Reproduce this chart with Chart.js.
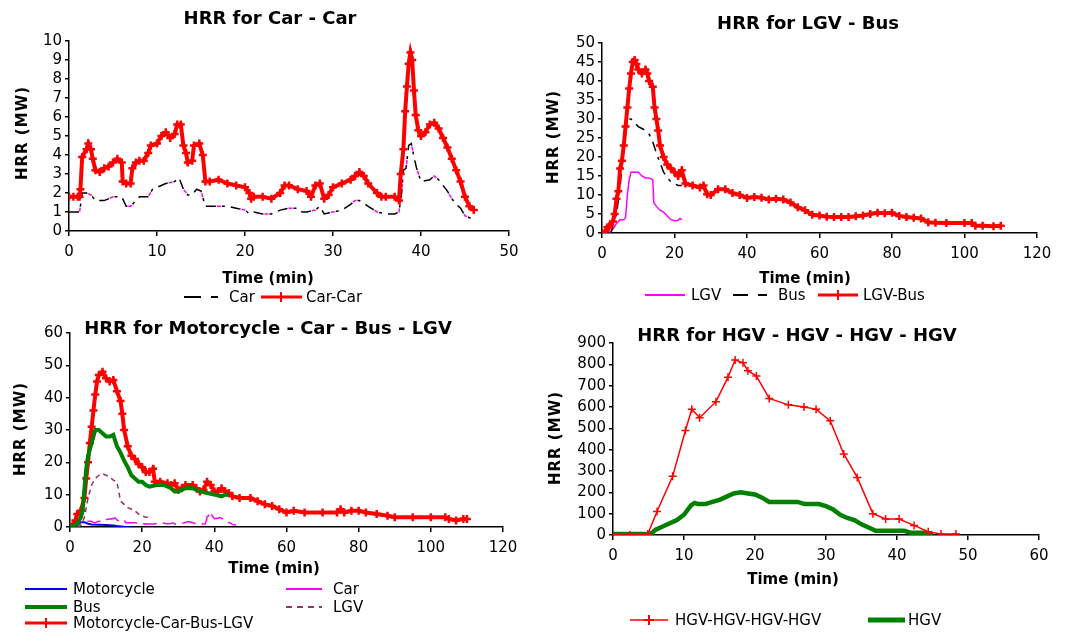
<!DOCTYPE html>
<html>
<head>
<meta charset="utf-8">
<script src="https://cdn.jsdelivr.net/npm/chart.js@4.4.0/dist/chart.umd.min.js"></script>
<style>
    body { margin: 0; background: #fff; }
    #page { position: relative; width: 1072px; height: 634px; overflow: hidden; }
    canvas { position: absolute; }
    .t { position: absolute; transform: translate(-50%, -50%); font: bold 18px 'DejaVu Sans'; white-space: nowrap; color: #000; }
    .xa { position: absolute; transform: translate(-50%, -50%); font: bold 15px 'DejaVu Sans'; white-space: nowrap; }
    .ya { position: absolute; transform: translate(-50%, -50%) rotate(-90deg); font: bold 15px 'DejaVu Sans'; letter-spacing: 1px; white-space: nowrap; }
    .lg { position: absolute; transform: translateY(-50%); font: 15px 'DejaVu Sans'; white-space: nowrap; }
    svg { position: absolute; left: 0; top: 0; }
</style>
</head>
<body>
<div id="page">
    <canvas id="c1" style="left:0px;top:26px" width="540" height="244"></canvas>
    <canvas id="c2" style="left:540px;top:28px" width="532" height="245"></canvas>
    <canvas id="c3" style="left:0px;top:318px" width="540" height="249"></canvas>
    <canvas id="c4" style="left:540px;top:328px" width="532" height="247"></canvas>

    <!-- titles -->
    <div class="t" style="left:270px;top:17px">HRR for Car - Car</div>
    <div class="t" style="left:808px;top:22px">HRR for LGV - Bus</div>
    <div class="t" style="left:268px;top:327px">HRR for Motorcycle - Car - Bus - LGV</div>
    <div class="t" style="left:797px;top:334px">HRR for HGV - HGV - HGV - HGV</div>

    <!-- axis titles -->
    <div class="xa" style="left:268px;top:278px">Time (min)</div>
    <div class="xa" style="left:805px;top:278px">Time (min)</div>
    <div class="xa" style="left:274px;top:568px">Time (min)</div>
    <div class="xa" style="left:793px;top:579px">Time (min)</div>
    <div class="ya" style="left:22px;top:133px">HRR (MW)</div>
    <div class="ya" style="left:553px;top:137px">HRR (MW)</div>
    <div class="ya" style="left:20px;top:429px">HRR (MW)</div>
    <div class="ya" style="left:555px;top:438px">HRR (MW)</div>

    <!-- legend samples -->
    <svg width="1072" height="634">
        <line x1="184" y1="297" x2="218" y2="297" stroke="#000" stroke-width="2" stroke-dasharray="17 10 7"/>
        <line x1="261" y1="297" x2="302" y2="297" stroke="#f00" stroke-width="3"/>
        <path d="M281 292 V302 M276 297 H286" stroke="#f00" stroke-width="2"/>

        <line x1="645" y1="295" x2="685" y2="295" stroke="#f0f" stroke-width="2"/>
        <line x1="733" y1="295" x2="767" y2="295" stroke="#000" stroke-width="2" stroke-dasharray="15 10 9"/>
        <line x1="818" y1="295" x2="858" y2="295" stroke="#f00" stroke-width="3"/>
        <path d="M838 290 V300 M833 295 H843" stroke="#f00" stroke-width="2"/>

        <line x1="25" y1="589" x2="67" y2="589" stroke="#0000ff" stroke-width="2"/>
        <line x1="25" y1="607" x2="67" y2="607" stroke="#008000" stroke-width="4"/>
        <line x1="25" y1="623" x2="67" y2="623" stroke="#f00" stroke-width="3"/>
        <path d="M46 618 V628 M41 623 H51" stroke="#f00" stroke-width="2"/>
        <line x1="286" y1="589" x2="322" y2="589" stroke="#f0f" stroke-width="2"/>
        <line x1="286" y1="607" x2="322" y2="607" stroke="#993366" stroke-width="2" stroke-dasharray="6 5"/>

        <line x1="630" y1="620" x2="668" y2="620" stroke="#f00" stroke-width="1.5"/>
        <path d="M649 615 V625 M644 620 H654" stroke="#f00" stroke-width="2"/>
        <line x1="868" y1="620" x2="905" y2="620" stroke="#008000" stroke-width="5"/>
    </svg>

    <!-- legend texts -->
    <div class="lg" style="left:229px;top:297px">Car</div>
    <div class="lg" style="left:306px;top:297px">Car-Car</div>
    <div class="lg" style="left:691px;top:295px">LGV</div>
    <div class="lg" style="left:778px;top:295px">Bus</div>
    <div class="lg" style="left:863px;top:295px">LGV-Bus</div>
    <div class="lg" style="left:73px;top:589px">Motorcycle</div>
    <div class="lg" style="left:73px;top:607px">Bus</div>
    <div class="lg" style="left:73px;top:623px">Motorcycle-Car-Bus-LGV</div>
    <div class="lg" style="left:333px;top:589px">Car</div>
    <div class="lg" style="left:333px;top:607px">LGV</div>
    <div class="lg" style="left:675px;top:620px">HGV-HGV-HGV-HGV</div>
    <div class="lg" style="left:908px;top:620px">HGV</div>
</div>

<script>
// Data <----------------------------------------------------------------------->

// Car - Car
const carCarTime = [0,0.5,1,1.2,1.3,1.5,2,2.2,2.5,2.7,3,3.5,4,4.5,5,5.5,6,6.1,6.5,7,7.2,7.6,8,8.5,9,9.3,10,10.5,11,11.5,12,12.3,12.7,13,13.3,13.5,14,14.2,14.8,15.2,15.5,16,17,18,19,20,20.5,20.7,21,22,23,24,24.5,25,26,27,27.5,28,28.5,29,29.5,30,31,32,32.5,33,33.5,34,35,35.5,36,37,37.5,37.7,38,38.2,38.4,38.6,38.8,39,39.2,39.4,39.7,40,40.5,41,41.5,42,42.5,43,43.5,44,44.5,45,45.5,46];
const carCarHRR = [1.8,1.8,1.8,1.8,2.2,3.9,4.3,4.6,4.3,3.8,3.2,3.1,3.3,3.4,3.6,3.8,3.6,2.6,2.5,2.5,3.3,3.6,3.7,3.7,4.1,4.5,4.6,5.0,5.2,4.9,5.1,5.6,5.6,4.5,4.1,3.6,3.7,4.5,4.6,4.0,2.6,2.6,2.7,2.5,2.4,2.3,2.0,1.7,1.8,1.8,1.7,2.0,2.4,2.4,2.2,2.1,1.8,2.4,2.5,1.7,1.9,2.3,2.5,2.7,2.9,3.1,2.9,2.5,2.0,1.8,1.8,1.8,1.6,3.0,4.3,6.3,7.6,8.8,9.4,9.0,7.4,6.1,5.3,5.0,5.2,5.6,5.7,5.4,4.9,4.4,3.8,3.2,2.6,1.8,1.3,1.1];
const carTime = [0,1.2,1.5,2,2.5,3,4,5,6,6.5,7,8,9,9.5,10,11,12,12.5,13,13.5,14,14.5,15,15.5,16,18,19,20,20.5,21,22,23,24,25,26,26.5,27,28,28.5,29,30,31,32,32.5,33,34,35,36,37,37.5,37.8,38,38.3,38.6,38.9,39.2,39.5,40,41,41.5,42,43,43.5,44,44.5,45,46];
const carHRR = [1.0,1.0,2.0,2.0,1.9,1.6,1.6,1.8,1.8,1.3,1.3,1.8,1.8,2.2,2.3,2.5,2.6,2.8,2.2,1.9,1.9,2.2,2.1,1.3,1.3,1.3,1.2,1.1,0.9,1.0,0.9,0.9,1.1,1.2,1.2,1.0,1.0,1.1,1.3,0.9,1.0,1.1,1.4,1.6,1.6,1.3,1.0,0.9,0.9,1.0,2.0,3.2,3.3,4.5,4.6,3.9,3.3,2.6,2.7,2.9,2.7,2.1,1.7,1.4,1.2,0.8,0.6];

// LGV - Bus
const lgvBusTime = [0,1,1.5,2,3,3.5,4,4.5,5,5.5,6,6.5,7,7.5,8,8.5,9,9.5,10,11,12,12.5,13,14,14.5,15,15.5,16,17,18,19,20,21,22,23,25,27,28,29,30,32,34,36,38,40,42,44,46,48,50,52,54,56,58,60,62,64,66,68,70,72,74,76,78,80,82,84,86,88,90,92,95,100,102,103,105,108,110];
const lgvBusHRR = [0,0.5,1.5,1.8,3,5,9,11,17,19,23,28,33,38,42,45,45.5,44.5,43,42,43,42,40,38.5,33,30,27,23,20,18,17,16,15,16.5,13,12.5,12,12.5,10.2,10,11.5,11.5,10.5,10,9.2,9.5,9.3,8.8,9,8.8,8,6.8,6,4.8,4.6,4.3,4.2,4.2,4.2,4.4,4.6,5,5.3,5.2,5.3,4.5,4.2,4,3.8,2.8,2.7,2.6,2.6,2.6,1.9,1.9,1.8,1.9];
const busTime = [2.5,3,4,5,5.5,6,6.5,7,7.5,8,9,10,11,12,13,14,15,16,17,18,19,20,21,22];
const busHRR = [0,2,5,12,18,22,26,29,30,30,29,28,27.5,27,26,24,21,18.5,16,14.5,13.5,13,12.5,12.5];
const lgvTime = [2,3,4,5,6,6.5,7,7.5,8,9,10,11,12,13,14,14.3,15,16,17,18,19,20,21,21.5,22];
const lgvHRR = [0,1,2.5,3.5,3.5,4,10,14,16,16,16,15,14.5,14.5,14,8,7,6,5.5,4.5,3.5,3.2,3.3,3.8,3.5];

// Motorcycle - Car - Bus - LGV
const mixTime = [0,1,1.5,2,3,4,4.5,5,5.5,6,6.5,7,7.5,8,9,10,11,12,13,14,14.5,15,16,17,18,19,20,21,22,23,23.5,25,27,28,29,30,31,32,34,35,36,37,38,39,40,41,42,43,44,45,47,50,52,54,56,58,60,62,65,70,74,75,76,78,80,82,85,88,90,95,100,104,105,107,109,110];
const mixHRR = [0,1,2,4,5,9,15,20,26,31,36,41,45,47,48,46,45,45.5,42,39,35,30,25,22,21,19.5,18.5,17,17,18,14,14,13.5,13,13.5,11.5,12,13,13,12,11,11.5,14,13,11,11,12,11,10.5,9.5,9,9,8,7,6.5,5.5,4.5,5,4.5,4.5,4.5,5.5,4.5,5,5,4.5,4,3.5,3,3,3,3,2.5,2,2.5,2.5];
const mixBusTime = [0,2,3,3.5,4,4.5,5,6,6.5,7,8,9,10,11,12,13,14,15,16,17,18,19,20,21,22,24,26,28,29,30,32,34,36,38,40,42,43,44];
const mixBusHRR = [0,1,3,5,12,18,22,26,28,30,30,29,28,28,28.5,25,23,20.5,18.5,16,15,14,14,13,12.5,13,13,12,11,11,12,12,11,10.5,10,9.5,10,10];
const mixLgvTime = [2,3,4,5,6,7,8,9,10,11,12,13,13.5,14,15,16,18,19,20,21,22];
const mixLgvHRR = [0,0.5,3,9,13,15,16,16.5,16,15.5,14.5,14,11,8,7,6,5,4,3.5,3,3];
const motoTime = [0,2,3,4,5,6,8,10,12,13,15,16.5];
const motoHRR = [0,0.5,1.5,1.5,1,0.8,0.7,0.6,0.5,0.3,0.1,0];

// HGV - HGV - HGV - HGV
const hgv4Time = [0,2.4,4.9,6.2,8.4,10.2,11.1,12.2,14.5,16.2,17.2,18.3,19,20.2,22,24.7,26.9,28.6,30.6,32.5,34.4,36.6,38.4,40.3,42.4,44.4,46.2,48.3];
const hgv4HRR = [0,0,5,110,275,490,590,550,625,740,820,808,770,745,640,610,600,590,535,380,270,100,75,75,45,15,5,5];
const hgvTime = [0,5,5.5,6,7,8,9,10,11,11.5,12,13,14,15,16,17,18,19,20,21,22,24,26,27,29,30,31,32,33,34,35,36,37,40,41,42,44,45];
const hgvHRR = [5,5,10,25,40,55,70,95,140,150,145,145,155,165,180,195,200,195,190,175,155,155,155,145,145,135,120,95,80,70,50,35,20,20,20,10,10,0];

// Helpers <---------------------------------------------------------------->
function pts(xs, ys) {
    return xs.map((x, i) => ({ x: x, y: ys[i] }));
}

const tickFont = { family: 'DejaVu Sans', size: 15 };

// fixed axis box sizes so the plot area lands where the reference has it
function makeScales(xMax, xStep, yMax, yStep, yWidth, xHeight) {
    return {
        x: {
            type: 'linear', min: 0, max: xMax,
            afterFit: s => { s.height = xHeight; },
            ticks: { stepSize: xStep, font: tickFont, color: '#000', padding: 7, maxRotation: 0, autoSkip: false },
            grid: { drawOnChartArea: false, color: '#000', tickLength: 5, lineWidth: 1.5 },
            border: { color: '#000', width: 1.5 }
        },
        y: {
            min: 0, max: yMax,
            afterFit: s => { s.width = yWidth; },
            ticks: { stepSize: yStep, font: tickFont, color: '#000', padding: 3, autoSkip: false },
            grid: { drawOnChartArea: false, color: '#000', tickLength: 4, lineWidth: 1.5 },
            border: { color: '#000', width: 1.5 }
        }
    };
}

function redMarked(xs, ys, order) {
    return {
        data: pts(xs, ys), borderColor: '#ff0000', borderWidth: 4,
        pointStyle: 'cross', pointRadius: 4, pointBorderWidth: 2.5,
        pointBorderColor: '#ff0000', order: order
    };
}

function plain(xs, ys, color, width, dash, order) {
    return {
        data: pts(xs, ys), borderColor: color, borderWidth: width,
        borderDash: dash || [], pointRadius: 0, order: order
    };
}

function makeChart(id, datasets, scales, padding) {
    const ctx = document.getElementById(id).getContext('2d');
    return new Chart(ctx, {
        type: 'line',
        data: { datasets: datasets },
        options: {
            responsive: false,
            animation: false,
            devicePixelRatio: 1,
            layout: { padding: padding },
            elements: { line: { tension: 0 } },
            plugins: { legend: { display: false }, tooltip: { enabled: false }, title: { display: false } },
            scales: scales
        }
    });
}

// Charts <------------------------------------------------------------------>
makeChart('c1', [
    redMarked(carCarTime, carCarHRR, 1),
    plain(carTime, carHRR, '#000000', 1.5, [10, 6, 3, 6], 2),
    Object.assign(plain(carTime, carHRR, '#ff00ff', 1.5, [4, 21], 3), { borderDashOffset: 14 })
], makeScales(50, 10, 10, 1, 69, 39), { top: 15, right: 31, bottom: 0, left: 0 });

makeChart('c2', [
    redMarked(lgvBusTime, lgvBusHRR, 1),
    plain(busTime, busHRR, '#000000', 1.5, [10, 6, 3, 6], 2),
    plain(lgvTime, lgvHRR, '#ff00ff', 1.5, null, 3)
], makeScales(120, 20, 50, 5, 62, 40), { top: 15, right: 35, bottom: 0, left: 0 });

makeChart('c3', [
    plain(mixBusTime, mixBusHRR, '#008000', 4, null, 1),
    redMarked(mixTime, mixHRR, 2),
    plain(mixLgvTime, mixLgvHRR, '#993366', 1.5, [5, 4], 3),
    plain(carTime, carHRR, '#ff00ff', 1.5, [14, 6], 4),
    plain(motoTime, motoHRR, '#0000ff', 2, null, 5)
], makeScales(120, 20, 60, 10, 70, 40), { top: 15, right: 37, bottom: 0, left: 0 });

makeChart('c4', [
    Object.assign(plain(hgv4Time, hgv4HRR, '#ff0000', 1.5, null, 1),
        { pointStyle: 'cross', pointRadius: 4, pointBorderWidth: 1.5, pointBorderColor: '#ff0000' }),
    plain(hgvTime, hgvHRR, '#008000', 4.5, null, 2)
], makeScales(60, 10, 900, 100, 73, 40), { top: 15, right: 33, bottom: 0, left: 0 });
</script>
</body>
</html>
